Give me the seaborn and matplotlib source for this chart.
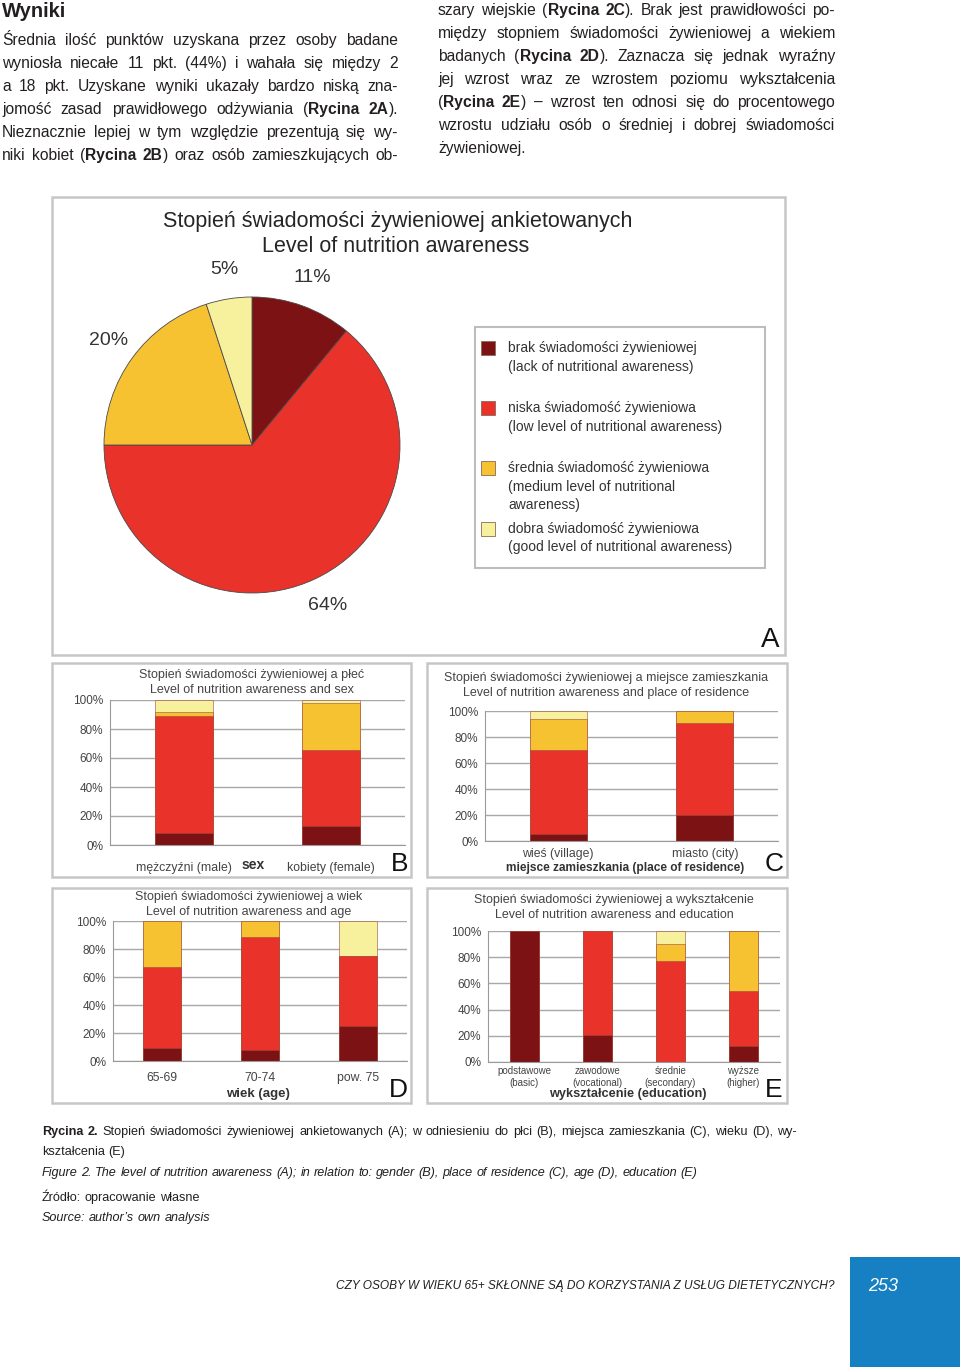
import matplotlib
matplotlib.use('Agg')
import matplotlib.pyplot as plt
from matplotlib import font_manager
from matplotlib.patches import Rectangle
import seaborn as sns
import pandas as pd

# WYMIARY STRONY (PX)
W, H = 960, 1367

# DANE - POZIOMY SWIADOMOSCI
poziomy = ['brak', 'niska', 'srednia', 'dobra']
kolory = ['#7d1214', '#e8322a', '#f6c232', '#f7f09d']
legenda = [
    ['brak świadomości żywieniowej', '(lack of nutritional awareness)'],
    ['niska świadomość żywieniowa', '(low level of nutritional awareness)'],
    ['średnia świadomość żywieniowa', '(medium level of nutritional', 'awareness)'],
    ['dobra świadomość żywieniowa', '(good level of nutritional awareness)'],
]

# RYCINA A - KOLOWY
pie_values = [11, 64, 20, 5]

# RYCINA B - PLEC
b_cats = ['mężczyźni (male)', 'kobiety (female)']
b_brak = [8.5, 13]
b_niska = [80.5, 52.5]
b_srednia = [2.5, 32.5]
b_dobra = [8.5, 2]

# RYCINA C - MIEJSCE ZAMIESZKANIA
c_cats = ['wieś (village)', 'miasto (city)']
c_brak = [5.5, 20]
c_niska = [64.5, 71]
c_srednia = [24, 9]
c_dobra = [6, 0]

# RYCINA D - WIEK
d_cats = ['65-69', '70-74', 'pow. 75']
d_brak = [9, 8, 25]
d_niska = [58, 80.5, 50]
d_srednia = [33, 11.5, 0]
d_dobra = [0, 0, 25]

# RYCINA E - WYKSZTALCENIE
e_cats = ['podstawowe\n(basic)', 'zawodowe\n(vocational)', 'średnie\n(secondary)', 'wyższe\n(higher)']
e_brak = [100, 20.5, 0, 12]
e_niska = [0, 79.5, 77, 42]
e_srednia = [0, 0, 13, 46]
e_dobra = [0, 0, 10, 0]

y_ticks = [0, 20, 40, 60, 80, 100]

# TEKST
tekst_lewy = [
    "Średnia ilość punktów uzyskana przez osoby badane",
    "wyniosła niecałe 11 pkt. (44%) i wahała się między 2",
    "a 18 pkt. Uzyskane wyniki ukazały bardzo niską zna-",
    "jomość zasad prawidłowego odżywiania (**Rycina 2A**).",
    "Nieznacznie lepiej w tym względzie prezentują się wy-",
    "niki kobiet (**Rycina 2B**) oraz osób zamieszkujących ob-",
]
tekst_prawy = [
    "szary wiejskie (**Rycina 2C**). Brak jest prawidłowości po-",
    "między stopniem świadomości żywieniowej a wiekiem",
    "badanych (**Rycina 2D**). Zaznacza się jednak wyraźny",
    "jej wzrost wraz ze wzrostem poziomu wykształcenia",
    "(**Rycina 2E**) – wzrost ten odnosi się do procentowego",
    "wzrostu udziału osób o średniej i dobrej świadomości",
    "żywieniowej.",
]
podpis = [
    "**Rycina 2.** Stopień świadomości żywieniowej ankietowanych (A); w odniesieniu do płci (B), "
    "miejsca zamieszkania (C), wieku (D), wy-",
    "kształcenia (E)",
    "Figure 2. The level of nutrition awareness (A); in relation to: gender (B), place of residence (C), "
    "age (D), education (E)",
    "Źródło: opracowanie własne",
    "Source: author’s own analysis",
]
stopka = 'CZY OSOBY W WIEKU 65+ SKŁONNE SĄ DO KORZYSTANIA Z USŁUG DIETETYCZNYCH?'

sns.set_style('white')
names = {f.name for f in font_manager.fontManager.ttflist}
ARIAL = 'Liberation Sans'
NARROW = 'Liberation Sans Narrow' if 'Liberation Sans Narrow' in names else ARIAL
plt.rcParams['font.family'] = [ARIAL, 'DejaVu Sans']

fig = plt.figure(figsize=(W / 100, H / 100), dpi=100)
renderer = fig.canvas.get_renderer()


def px(l, t, w, h):
    return [l / W, 1 - (t + h) / H, w / W, h / H]


def fy(y):
    return 1 - y / H


def parse(line):
    words = [[]]
    for i, chunk in enumerate(line.split('**')):
        wt = 'bold' if i % 2 else 'normal'
        for j, p in enumerate(chunk.split(' ')):
            if j > 0:
                words.append([])
            if p:
                words[-1].append((p, wt))
    return [w for w in words if w]


def szer(s, size, style='normal', wt='normal'):
    t = fig.text(0, 0, s, fontsize=size, fontstyle=style, fontweight=wt, family=NARROW)
    w = t.get_window_extent(renderer).width
    t.remove()
    return w


def spacja(size, style='normal'):
    return szer('x x', size, style) - szer('xx', size, style)


def naturalna(line, size, style='normal'):
    words = parse(line)
    w = sum(szer(s, size, style, wt) for word in words for s, wt in word)
    return w + (len(words) - 1) * spacja(size, style)


def dopasuj(lines, width, style='normal', s0=10.0):
    # ROZMIAR CZCIONKI ABY NAJDLUZSZA LINIA ZMIESCILA SIE W SZEROKOSCI
    return s0 * width / max(naturalna(l, s0, style) for l in lines)


def linia(line, x0, x1, y, size, style='normal', justify=True, color='#231f20'):
    words = parse(line)
    objs = []
    for word in words:
        segs = []
        for s, wt in word:
            t = fig.text(0, fy(y), s, fontsize=size, fontweight=wt, fontstyle=style,
                         family=NARROW, va='baseline', color=color)
            segs.append((t, t.get_window_extent(renderer).width))
        objs.append(segs)
    widths = [sum(w for _, w in segs) for segs in objs]
    if justify and len(objs) > 1:
        gap = (x1 - x0 - sum(widths)) / (len(objs) - 1)
    else:
        gap = spacja(size, style)
    x = x0
    for segs in objs:
        for t, w in segs:
            t.set_x(x / W)
            x += w
        x += gap


def ramka(l, t, w, h, ec='#c6c6c6', lw=1.8):
    fig.add_artist(Rectangle((l / W, 1 - (t + h) / H), w / W, h / H, transform=fig.transFigure,
                             fill=False, edgecolor=ec, lw=lw, zorder=0))


# TEKST GLOWNY
body_size = 0.97 * min(dopasuj(tekst_lewy, 396), dopasuj(tekst_prawy[:-1], 397))
fig.text(2 / W, fy(17), 'Wyniki', fontsize=14.5, fontweight='bold', family=NARROW,
         va='baseline', color='#231f20')
for i, line in enumerate(tekst_lewy):
    linia(line, 2, 398, 45 + 23 * i, body_size)
for i, line in enumerate(tekst_prawy):
    linia(line, 438, 835, 15 + 23 * i, body_size, justify=(i < len(tekst_prawy) - 1))

# RYCINA A
ramka(52, 197, 733, 458)
fig.text(398 / W, fy(222), 'Stopień świadomości żywieniowej ankietowanych', fontsize=15.5,
         ha='center', va='center', color='#252525')
fig.text(396 / W, fy(247), 'Level of nutrition awareness', fontsize=15.5,
         ha='center', va='center', color='#252525')
ax = fig.add_axes(px(104, 297, 296, 296))
ax.pie(pie_values, colors=kolory, startangle=90, counterclock=False,
       autopct='%.0f%%', pctdistance=1.2,
       wedgeprops=dict(edgecolor='#4a4a4a', linewidth=0.6),
       textprops=dict(fontsize=14, color='#333333'))
ax.set_xlim(-1, 1)
ax.set_ylim(-1, 1)

ramka(475, 327, 290, 241, ec='#bdbdbd', lw=1.5)
starty = [348, 408, 468, 529]
for lines, col, y0 in zip(legenda, kolory, starty):
    fig.add_artist(Rectangle((481 / W, fy(y0 + 7)), 14 / W, 14 / H, transform=fig.transFigure,
                             facecolor=col, edgecolor='#8a6a5a', lw=0.6))
    for k, s in enumerate(lines):
        fig.text(508 / W, fy(y0 + 18.5 * k), s, fontsize=10, va='center', color='#333333')
fig.text(770 / W, fy(640), 'A', fontsize=20, ha='center', va='center', color='#111111')


# RYCINY B-E
def panel(box, axrect, cats, series, tytul, xlabel, xlabel_y, litera, lit_xy,
          tick_size=8.8, tick_pad=12, xlabel_size=9.5):
    ramka(*box)
    ax = fig.add_axes(px(*axrect))
    df = pd.DataFrame(dict(zip(poziomy, series)), index=cats)
    cum = df.cumsum(axis=1)
    for lvl, col in reversed(list(zip(poziomy, kolory))):
        sns.barplot(x=list(cum.index), y=cum[lvl].values, color=col, saturation=1, width=0.39,
                    ax=ax, edgecolor='#9a4a40', linewidth=0.4)
    n = len(cats)
    ax.set_xlim(-0.5, n - 0.5)
    ax.set_ylim(0, 100)
    ax.set_yticks(y_ticks)
    ax.set_yticklabels([f'{v}%' for v in y_ticks])
    ax.yaxis.grid(True, color='#a8a8a8', lw=1)
    ax.set_axisbelow(True)
    ax.set_facecolor('white')
    for s in ['top', 'right']:
        ax.spines[s].set_visible(False)
    for s in ['left', 'bottom']:
        ax.spines[s].set_color('#9a9a9a')
    ax.set_xticks([i + 0.5 for i in range(-1, n)], minor=True)
    ax.tick_params(axis='y', length=3, color='#9a9a9a', labelsize=8.5, labelcolor='#444444', pad=2)
    ax.tick_params(axis='x', which='major', length=0, labelsize=tick_size, labelcolor='#444444',
                   pad=tick_pad)
    ax.tick_params(axis='x', which='minor', length=3, color='#9a9a9a')
    ax.set_xlabel('')
    ax.set_ylabel('')
    tx, ty = tytul[0]
    for k, s in enumerate(tytul[1]):
        fig.text(tx / W, fy(ty + 15 * k), s, fontsize=9, ha='center', va='center', color='#444444')
    fig.text(xlabel[1] / W, fy(xlabel_y), xlabel[0], fontsize=xlabel_size, fontweight='bold',
             ha='center', va='center', color='#333333')
    fig.text(lit_xy[0] / W, fy(lit_xy[1]), litera, fontsize=19, ha='center', va='center',
             color='#111111')
    return ax


panel((52, 663, 359, 214), (110, 700, 295, 145), b_cats,
      [b_brak, b_niska, b_srednia, b_dobra],
      ((252, 675), ['Stopień świadomości żywieniowej a płeć', 'Level of nutrition awareness and sex']),
      ('sex', 253), 865, 'B', (400, 864), tick_pad=12, xlabel_size=10)

panel((427, 663, 360, 214), (485, 711, 293, 130), c_cats,
      [c_brak, c_niska, c_srednia, c_dobra],
      ((606, 678), ['Stopień świadomości żywieniowej a miejsce zamieszkania',
                    'Level of nutrition awareness and place of residence']),
      ('miejsce zamieszkania (place of residence)', 625), 868, 'C', (774, 864), tick_pad=5,
      xlabel_size=8.6)

panel((52, 888, 359, 215), (113, 921, 294, 140), d_cats,
      [d_brak, d_niska, d_srednia, d_dobra],
      ((249, 897), ['Stopień świadomości żywieniowej a wiek', 'Level of nutrition awareness and age']),
      ('wiek (age)', 258), 1094, 'D', (398, 1090), tick_pad=8)

panel((427, 888, 360, 215), (488, 931, 292, 131), e_cats,
      [e_brak, e_niska, e_srednia, e_dobra],
      ((614, 900), ['Stopień świadomości żywieniowej a wykształcenie',
                    'Level of nutrition awareness and education']),
      ('wykształcenie (education)', 628), 1094, 'E', (774, 1090), tick_size=7, tick_pad=3,
      xlabel_size=9.2)

# PODPIS
cap_size = 0.98 * dopasuj(podpis[:1], 755)
linia(podpis[0], 42, 797, 1135, cap_size)
linia(podpis[1], 42, 797, 1155, cap_size, justify=False)
linia(podpis[2], 42, 797, 1176, cap_size, style='italic', justify=False)
linia(podpis[3], 42, 797, 1201, cap_size, justify=False)
linia(podpis[4], 42, 797, 1221, cap_size, style='italic', justify=False)

# STOPKA
foot_size = dopasuj([stopka], 502, style='italic')
fig.text(835 / W, fy(1289), stopka, fontsize=foot_size, fontstyle='italic', family=NARROW,
         ha='right', va='baseline', color='#231f20')
fig.add_artist(Rectangle((850 / W, 0), 110 / W, 110 / H, transform=fig.transFigure,
                         facecolor='#1680c2', edgecolor='none'))
fig.text(868 / W, fy(1291), '253', fontsize=13, fontstyle='italic', family=NARROW,
         va='baseline', color='white')

fig.savefig('out.png', dpi=100, facecolor='white')
